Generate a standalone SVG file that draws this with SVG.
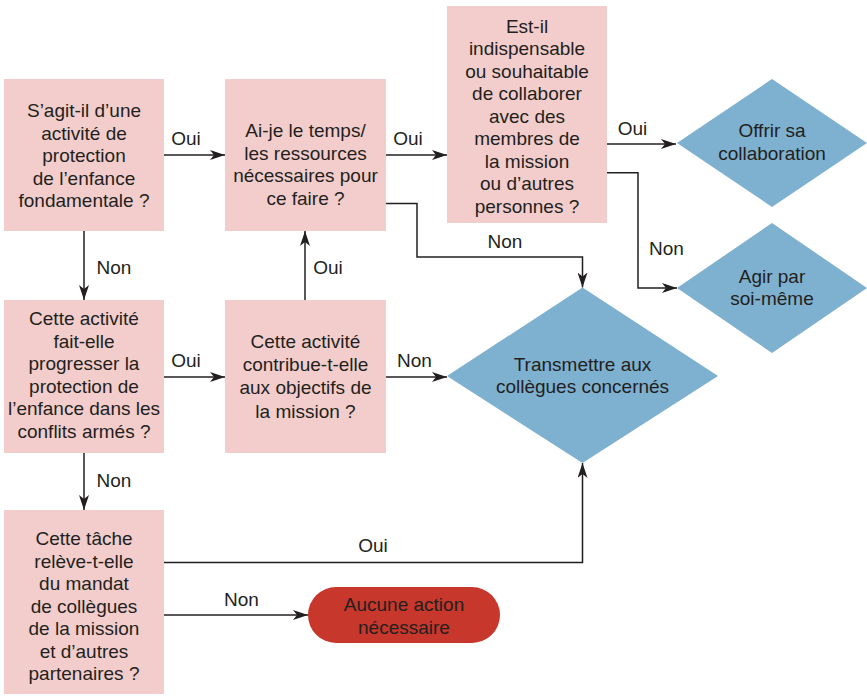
<svg xmlns="http://www.w3.org/2000/svg" width="867" height="696" viewBox="0 0 867 696">
  <style>
    .q { fill: #f2cdcb; }
    .d { fill: #7eb0d0; }
    .end { fill: #c8372b; }
    text { font-family: "Liberation Sans", Arial, sans-serif; font-size: 19px; fill: #231f20; text-anchor: middle; }
    .wire { fill: none; stroke: #231f20; stroke-width: 1.5; }
    .arr { marker-end: url(#head); }
  </style>
  <defs>
    <marker id="head" viewBox="0 0 15 10" refX="15" refY="5" markerWidth="15" markerHeight="10" markerUnits="userSpaceOnUse" orient="auto">
      <path d="M0,0 L15,5 L0,10 L4,5 Z" fill="#231f20"/>
    </marker>
  </defs>
  <rect width="867" height="696" fill="#ffffff"/>

  <!-- connectors -->
  <g id="connectors">
    <path class="wire arr" d="M164,155 H225"/>
    <text x="186" y="145">Oui</text>
    <path class="wire arr" d="M386,155 H447"/>
    <text x="408" y="145">Oui</text>
    <path class="wire arr" d="M607,144 H676"/>
    <text x="632.5" y="135">Oui</text>
    <path class="wire arr" d="M607,172.7 H638 V288 H677"/>
    <text x="666.5" y="255">Non</text>
    <path class="wire arr" d="M386,203.5 H417 V257 H582.5 V287.5"/>
    <text x="505" y="248">Non</text>
    <path class="wire arr" d="M84,231 V300"/>
    <text x="114" y="273.5">Non</text>
    <path class="wire arr" d="M164,377 H225"/>
    <text x="186" y="366.5">Oui</text>
    <path class="wire arr" d="M305,300 V231"/>
    <text x="328" y="273.5">Oui</text>
    <path class="wire arr" d="M386,377 H447"/>
    <text x="414.5" y="366.5">Non</text>
    <path class="wire arr" d="M84,453 V510"/>
    <text x="114" y="487">Non</text>
    <path class="wire arr" d="M164,562.5 H582.5 V463"/>
    <text x="373" y="552">Oui</text>
    <path class="wire arr" d="M164,615 H308"/>
    <text x="241.5" y="606">Non</text>
  </g>

  <!-- question boxes -->
  <g id="q-fondamentale">
    <rect class="q" x="4" y="79" width="160" height="152"/>
    <text x="84" y="117">S’agit-il d’une</text>
    <text x="84" y="139.5">activité de</text>
    <text x="84" y="162">protection</text>
    <text x="84" y="184.5">de l’enfance</text>
    <text x="84" y="207">fondamentale ?</text>
  </g>
  <g id="q-ressources">
    <rect class="q" x="225" y="79" width="161" height="152"/>
    <text x="305.5" y="137">Ai-je le temps/</text>
    <text x="305.5" y="159.5">les ressources</text>
    <text x="305.5" y="182">nécessaires pour</text>
    <text x="305.5" y="204.5">ce faire ?</text>
  </g>
  <g id="q-collaborer">
    <rect class="q" x="447" y="6" width="160" height="217"/>
    <text x="527" y="32.5">Est-il</text>
    <text x="527" y="55">indispensable</text>
    <text x="527" y="77.5">ou souhaitable</text>
    <text x="527" y="100">de collaborer</text>
    <text x="527" y="122.5">avec des</text>
    <text x="527" y="145">membres de</text>
    <text x="527" y="167.5">la mission</text>
    <text x="527" y="190">ou d’autres</text>
    <text x="527" y="212.5">personnes ?</text>
  </g>
  <g id="q-progresser">
    <rect class="q" x="4" y="300" width="160" height="153"/>
    <text x="84" y="325">Cette activité</text>
    <text x="84" y="347.5">fait-elle</text>
    <text x="84" y="370">progresser la</text>
    <text x="84" y="392.5">protection de</text>
    <text x="84" y="415">l’enfance dans les</text>
    <text x="84" y="437.5">conflits armés ?</text>
  </g>
  <g id="q-objectifs">
    <rect class="q" x="225" y="300" width="161" height="153"/>
    <text x="305.5" y="347.5">Cette activité</text>
    <text x="305.5" y="370.5">contribue-t-elle</text>
    <text x="305.5" y="394">aux objectifs de</text>
    <text x="305.5" y="417.5">la mission ?</text>
  </g>
  <g id="q-mandat">
    <rect class="q" x="4" y="510" width="160" height="184"/>
    <text x="84" y="545">Cette tâche</text>
    <text x="84" y="567.5">relève-t-elle</text>
    <text x="84" y="590">du mandat</text>
    <text x="84" y="612.5">de collègues</text>
    <text x="84" y="635">de la mission</text>
    <text x="84" y="657.5">et d’autres</text>
    <text x="84" y="680">partenaires ?</text>
  </g>

  <!-- outcomes -->
  <g id="r-offrir">
    <polygon class="d" points="677,143 772,79 867,143 772,207"/>
    <text x="772" y="137">Offrir sa</text>
    <text x="772" y="159.5">collaboration</text>
  </g>
  <g id="r-agir">
    <polygon class="d" points="677,288 772,223 867,288 772,353"/>
    <text x="772" y="283">Agir par</text>
    <text x="772" y="305">soi-même</text>
  </g>
  <g id="r-transmettre">
    <polygon class="d" points="447,376 582.5,287.5 718,376 582.5,463"/>
    <text x="582.5" y="370.7">Transmettre aux</text>
    <text x="582.5" y="393.3">collègues concernés</text>
  </g>
  <g id="r-aucune">
    <rect class="end" x="308" y="587" width="192" height="56" rx="28"/>
    <text x="404" y="611">Aucune action</text>
    <text x="404" y="633.5">nécessaire</text>
  </g>
</svg>
